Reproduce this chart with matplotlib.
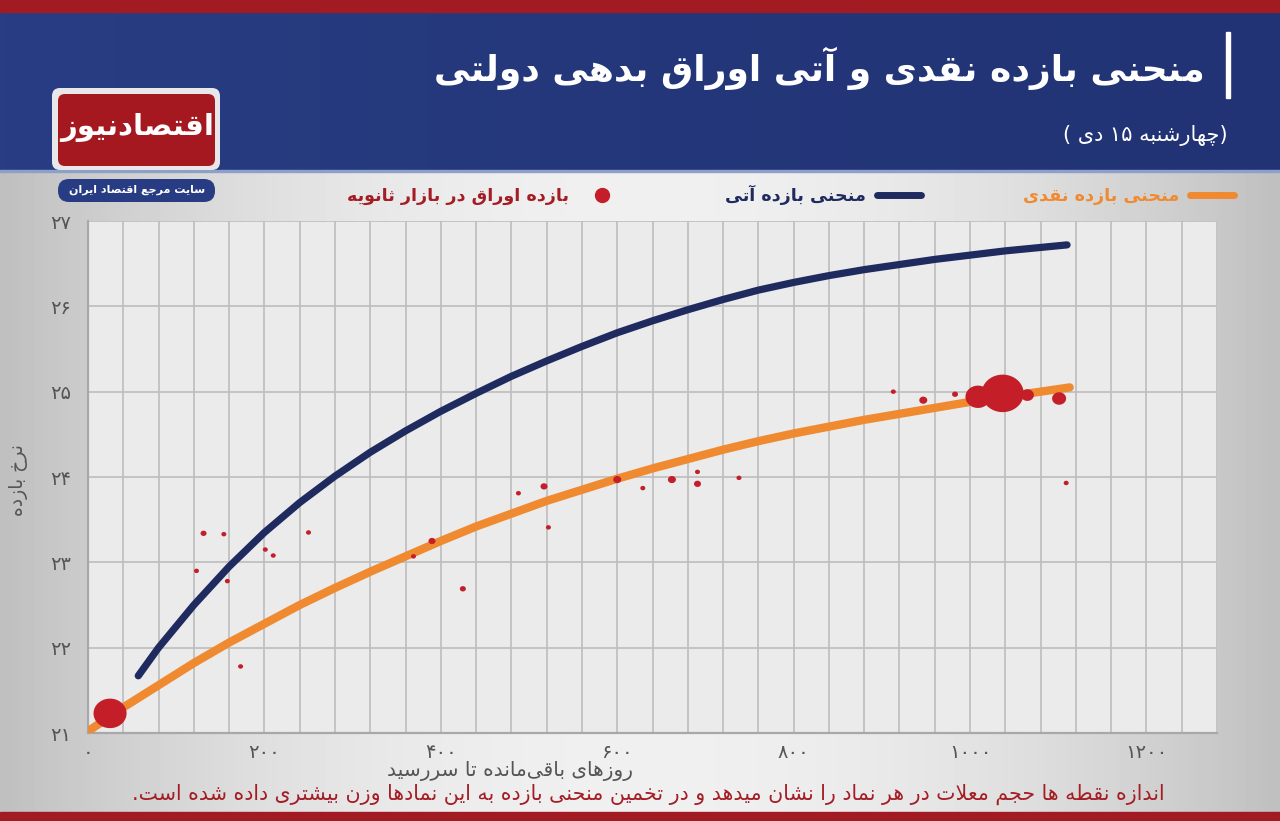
import numpy as np
import matplotlib.pyplot as plt
from matplotlib.path import Path
from matplotlib.patches import FancyBboxPatch, Rectangle
from matplotlib.lines import Line2D
from matplotlib.colors import LinearSegmentedColormap

# ---- data ----
# spot yield curve (days to maturity, yield %)
spot_days = [0, 40, 80, 120, 160, 200, 240, 280, 320, 360, 400, 440, 480, 520, 560,
             600, 640, 680, 720, 760, 800, 840, 880, 920, 960, 1000, 1040, 1080, 1113]
spot_rate = [21.02, 21.30, 21.56, 21.82, 22.06, 22.28, 22.50, 22.70, 22.89, 23.07, 23.25, 23.42, 23.57, 23.72, 23.85,
             23.98, 24.10, 24.21, 24.32, 24.42, 24.51, 24.59, 24.67, 24.74, 24.81, 24.88, 24.94, 25.00, 25.05]

# forward yield curve
fwd_days = [57, 80, 120, 160, 200, 240, 280, 320, 360, 400, 440, 480, 520, 560,
            600, 640, 680, 720, 760, 800, 840, 880, 920, 960, 1000, 1040, 1080, 1110]
fwd_rate = [21.67, 22.00, 22.50, 22.95, 23.35, 23.70, 24.01, 24.29, 24.54, 24.77, 24.98, 25.18, 25.36, 25.53,
            25.69, 25.83, 25.96, 26.08, 26.19, 26.28, 26.36, 26.43, 26.49, 26.55, 26.60, 26.65, 26.69, 26.72]

# secondary market bonds: days, yield, relative trade volume
bond_days = [25, 123, 131, 154, 158, 173, 201, 210, 250, 369, 390, 425, 488, 517, 522,
             600, 629, 662, 691, 691, 738, 913, 947, 983, 1009, 1037, 1065, 1101, 1109]
bond_rate = [21.23, 22.90, 23.34, 23.33, 22.78, 21.78, 23.15, 23.08, 23.35, 23.07, 23.25, 22.69, 23.81, 23.89, 23.41,
             23.97, 23.87, 23.97, 24.06, 23.92, 23.99, 25.00, 24.90, 24.97, 24.94, 24.98, 24.96, 24.92, 23.93]
bond_vol = [1090, 25, 36, 25, 25, 25, 25, 25, 25, 25, 49, 36, 25, 49, 25,
            64, 25, 64, 25, 49, 25, 25, 64, 36, 625, 1760, 170, 196, 25]

x_ticks = [0, 200, 400, 600, 800, 1000, 1200]
y_ticks = [21, 22, 23, 24, 25, 26, 27]

title = "منحنی بازده نقدی و آتی اوراق بدهی دولتی"
subtitle = "(چهارشنبه ۱۵ دی )"
lbl_spot = "منحنی بازده نقدی"
lbl_fwd = "منحنی بازده آتی"
lbl_bond = "بازده اوراق در بازار ثانویه"
x_label = "روزهای باقی\u200cمانده تا سررسید"
y_label = "نرخ بازده"
note = "اندازه نقطه ها حجم معلات در هر نماد را نشان میدهد و در تخمین منحنی بازده به این نمادها وزن بیشتری داده شده است."
logo = "اقتصادنیوز"
logo_sub = "سایت مرجع اقتصاد ایران"

# ---- simple Persian shaping + right-to-left ordering ----
FORMS = {
    '\u0627': (0xFE8D, 0xFE8E, None, None), '\u0622': (0xFE81, 0xFE82, None, None),
    '\u0628': (0xFE8F, 0xFE90, 0xFE91, 0xFE92), '\u067E': (0xFB56, 0xFB57, 0xFB58, 0xFB59),
    '\u062A': (0xFE95, 0xFE96, 0xFE97, 0xFE98), '\u062B': (0xFE99, 0xFE9A, 0xFE9B, 0xFE9C),
    '\u062C': (0xFE9D, 0xFE9E, 0xFE9F, 0xFEA0), '\u0686': (0xFB7A, 0xFB7B, 0xFB7C, 0xFB7D),
    '\u062D': (0xFEA1, 0xFEA2, 0xFEA3, 0xFEA4), '\u062E': (0xFEA5, 0xFEA6, 0xFEA7, 0xFEA8),
    '\u062F': (0xFEA9, 0xFEAA, None, None), '\u0630': (0xFEAB, 0xFEAC, None, None),
    '\u0631': (0xFEAD, 0xFEAE, None, None), '\u0632': (0xFEAF, 0xFEB0, None, None),
    '\u0698': (0xFB8A, 0xFB8B, None, None),
    '\u0633': (0xFEB1, 0xFEB2, 0xFEB3, 0xFEB4), '\u0634': (0xFEB5, 0xFEB6, 0xFEB7, 0xFEB8),
    '\u0635': (0xFEB9, 0xFEBA, 0xFEBB, 0xFEBC), '\u0636': (0xFEBD, 0xFEBE, 0xFEBF, 0xFEC0),
    '\u0637': (0xFEC1, 0xFEC2, 0xFEC3, 0xFEC4), '\u0638': (0xFEC5, 0xFEC6, 0xFEC7, 0xFEC8),
    '\u0639': (0xFEC9, 0xFECA, 0xFECB, 0xFECC), '\u063A': (0xFECD, 0xFECE, 0xFECF, 0xFED0),
    '\u0641': (0xFED1, 0xFED2, 0xFED3, 0xFED4), '\u0642': (0xFED5, 0xFED6, 0xFED7, 0xFED8),
    '\u06A9': (0xFB8E, 0xFB8F, 0xFB90, 0xFB91), '\u06AF': (0xFB92, 0xFB93, 0xFB94, 0xFB95),
    '\u0644': (0xFEDD, 0xFEDE, 0xFEDF, 0xFEE0), '\u0645': (0xFEE1, 0xFEE2, 0xFEE3, 0xFEE4),
    '\u0646': (0xFEE5, 0xFEE6, 0xFEE7, 0xFEE8), '\u0647': (0xFEE9, 0xFEEA, 0xFEEB, 0xFEEC),
    '\u0648': (0xFEED, 0xFEEE, None, None), '\u06CC': (0xFBFC, 0xFBFD, 0xFBFE, 0xFBFF),
}
LAMALEF = {'\u0627': (0xFEFB, 0xFEFC), '\u0622': (0xFEF5, 0xFEF6)}


def shape(s):
    out = []
    i = 0
    while i < len(s):
        ch = s[i]
        if ch not in FORMS:
            out.append(ch)
            i += 1
            continue
        prev = s[i - 1] if i > 0 else ''
        jp = prev in FORMS and FORMS[prev][2] is not None
        nxt = s[i + 1] if i + 1 < len(s) else ''
        if ch == '\u0644' and nxt in LAMALEF:
            out.append(chr(LAMALEF[nxt][1] if jp else LAMALEF[nxt][0]))
            i += 2
            continue
        f = FORMS[ch]
        jn = f[2] is not None and nxt in FORMS
        if jp and jn:
            c = f[3]
        elif jp:
            c = f[1]
        elif jn:
            c = f[2]
        else:
            c = f[0]
        out.append(chr(c))
        i += 1
    return ''.join(out).replace('\u200c', '')


def fa(s):
    s = shape(s)
    runs = []
    for ch in s:
        ltr = ch.isdigit() or (ch.isascii() and ch.isalpha())
        if runs and runs[-1][0] == ltr:
            runs[-1][1].append(ch)
        else:
            runs.append([ltr, [ch]])
    mirror = {'(': ')', ')': '('}
    res = ''
    for ltr, chars in reversed(runs):
        if ltr:
            res += ''.join(chars)
        else:
            res += ''.join(mirror.get(c, c) for c in reversed(chars))
    return res


def fa_num(n):
    return str(n).translate(str.maketrans('0123456789', '۰۱۲۳۴۵۶۷۸۹'))


plt.rcParams['font.family'] = 'DejaVu Sans'

NAVY = '#1f2a5e'
ORANGE = '#f08a30'
RED = '#c41f28'
DARKRED = '#a41d25'

fig = plt.figure(figsize=(12.8, 8.21), dpi=100)

# background layer in pixel coordinates
bg = fig.add_axes([0, 0, 1, 1])
bg.set_xlim(0, 1280)
bg.set_ylim(821, 0)
bg.axis('off')
xx = np.linspace(-1, 1, 400)
prof = 0.94 - 0.19 * xx ** 2
bg.imshow(np.tile(prof, (50, 1)), cmap='gray', vmin=0, vmax=1, extent=[0, 1280, 821, 170],
          aspect='auto', zorder=0)
band = np.tile(np.linspace(0, 1, 200), (20, 1))
band_cmap = LinearSegmentedColormap.from_list('band', ['#283d83', '#24377a', '#213374'])
bg.imshow(band, cmap=band_cmap, extent=[0, 1280, 172, 10], aspect='auto', zorder=1)
bg.add_patch(Rectangle((0, 0), 1280, 12, color='#a31b22', zorder=2))
bg.add_patch(Rectangle((0, 170), 1280, 2.5, color='#8fa0c8', zorder=2))
bg.add_patch(Rectangle((0, 812), 1280, 9, color='#a31b22', zorder=2))

# logo
bg.add_patch(FancyBboxPatch((52, 88), 168, 82, boxstyle='round,pad=0,rounding_size=8',
                            fc='#e8e8ea', ec='none', zorder=3))
bg.add_patch(FancyBboxPatch((58, 94), 157, 72, boxstyle='round,pad=0,rounding_size=7',
                            fc='#a5181f', ec='none', zorder=4))
bg.text(137, 128, fa(logo), color='white', fontsize=21, fontweight='bold',
        ha='center', va='center', zorder=5)
bg.add_patch(FancyBboxPatch((58, 179), 157, 23, boxstyle='round,pad=0,rounding_size=11',
                            fc='#283c84', ec='none', zorder=4))
bg.text(137, 190, fa(logo_sub), color='white', fontsize=8, fontweight='bold',
        ha='center', va='center', zorder=5)

# title block
bg.add_patch(Rectangle((1226, 32), 4, 66, color='white', zorder=3))
bg.text(1205, 68, fa(title), color='white', fontsize=26, fontweight='bold',
        ha='right', va='center', zorder=5)
bg.text(1228, 135, fa(subtitle), color='white', fontsize=15,
        ha='right', va='center', zorder=5)

# footnote
bg.text(1165, 794, fa(note), color=DARKRED, fontsize=14.8,
        ha='right', va='center', zorder=5)

# ---- chart ----
ax = fig.add_axes([88 / 1280, 88 / 821, 1129 / 1280, 512 / 821])
ax.set_facecolor('#ebebeb')

ax.plot(spot_days, spot_rate, color=ORANGE, lw=6, solid_capstyle='round',
        solid_joinstyle='round', zorder=3)
ax.plot(fwd_days, fwd_rate, color=NAVY, lw=5.2, solid_capstyle='round',
        solid_joinstyle='round', zorder=3)

t = np.linspace(0, 2 * np.pi, 64)
ellipse = Path(np.c_[1.12 * np.cos(t), np.sin(t)])
ax.scatter(bond_days, bond_rate, s=np.array(bond_vol) * 0.52, marker=ellipse,
           color=RED, linewidths=0, zorder=4)

ax.set_xlim(0, 1272)
ax.set_ylim(21, 27)
ax.set_xticks(x_ticks)
ax.set_xticklabels([fa_num(v) for v in x_ticks])
ax.set_xticks(np.arange(0, 1281, 40), minor=True)
ax.set_yticks(y_ticks)
ax.set_yticklabels([fa_num(v) for v in y_ticks])
ax.tick_params(axis='both', which='both', length=0, labelsize=14, labelcolor='#555555')
ax.tick_params(axis='x', pad=7)
ax.tick_params(axis='y', pad=12)
ax.grid(which='both', axis='x', color='#bdbdbd', lw=1.2)
ax.grid(which='major', axis='y', color='#bdbdbd', lw=1.2)
ax.set_axisbelow(True)
for side in ['top', 'right']:
    ax.spines[side].set_visible(False)
for side in ['left', 'bottom']:
    ax.spines[side].set_color('#a8a8a8')
    ax.spines[side].set_linewidth(1.6)

ax.set_xlabel(fa(x_label), fontsize=14.5, color='#555555', va='center')
ax.xaxis.set_label_coords(0.374, -0.074)
ax.set_ylabel(fa(y_label), fontsize=13.5, color='#555555')
ax.yaxis.set_label_coords(-0.053, 0.494)

# legend, right to left
handles = [
    Line2D([], [], marker='o', ls='none', color=RED, markersize=10),
    Line2D([], [], color=NAVY, lw=5, solid_capstyle='round'),
    Line2D([], [], color=ORANGE, lw=5, solid_capstyle='round'),
]
labels = [fa(lbl_bond), fa(lbl_fwd), fa(lbl_spot)]
leg = fig.legend(handles, labels, ncol=3, markerfirst=False, frameon=False,
                 loc='center right', bbox_to_anchor=(1243 / 1280, 1 - 195 / 821),
                 borderpad=0, prop={'weight': 'bold', 'size': 12.6}, handlelength=2.55,
                 columnspacing=5.8, handletextpad=0.6)
for txt, c in zip(leg.get_texts(), [DARKRED, NAVY, ORANGE]):
    txt.set_color(c)

fig.savefig('out.png', dpi=100)
